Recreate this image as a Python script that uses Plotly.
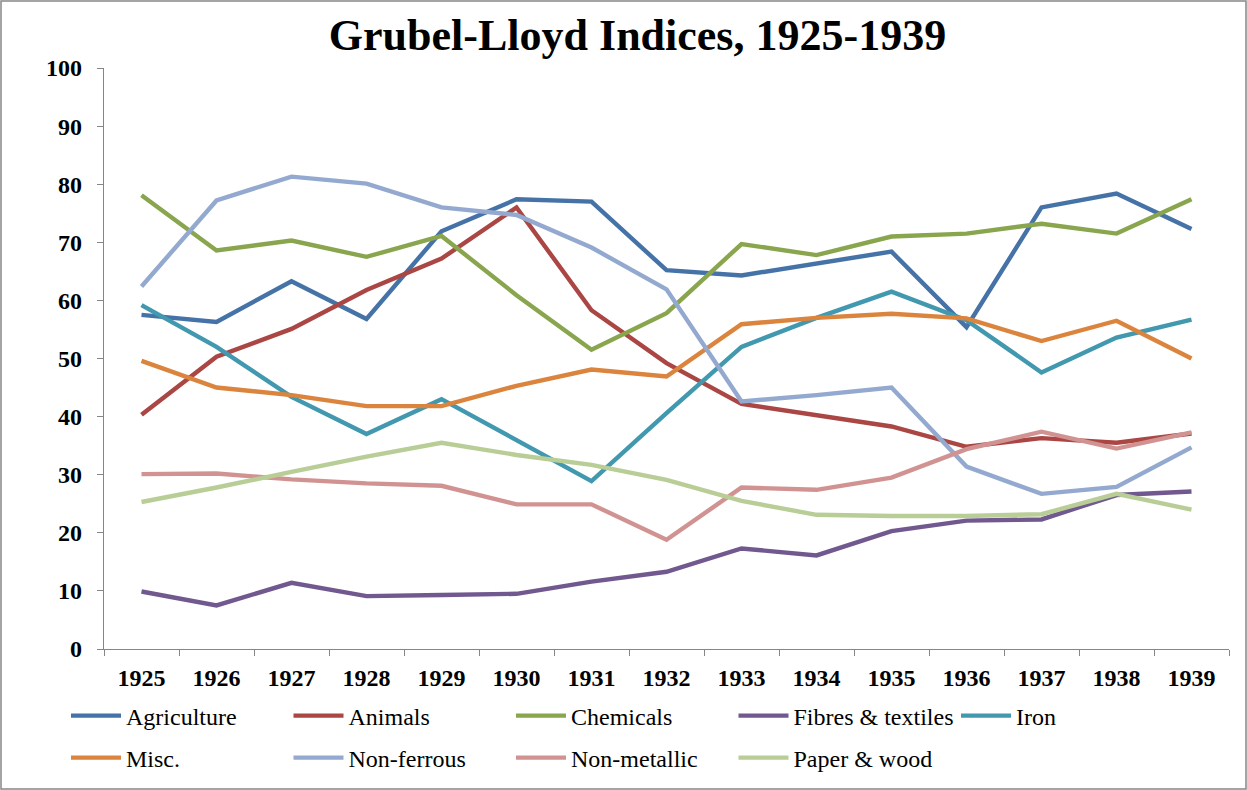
import plotly.graph_objects as go

years = ["1925", "1926", "1927", "1928", "1929", "1930", "1931", "1932",
         "1933", "1934", "1935", "1936", "1937", "1938", "1939"]

agriculture = [57.5, 56.3, 63.3, 56.8, 71.9, 77.4, 77.0, 65.2, 64.3, 66.3, 68.4, 55.4, 76.0, 78.4, 72.3]
animals = [40.3, 50.3, 55.1, 61.8, 67.2, 76.0, 58.3, 49.2, 42.2, 40.3, 38.3, 34.8, 36.3, 35.5, 37.1]
chemicals = [78.1, 68.6, 70.3, 67.5, 71.1, 60.9, 51.5, 57.8, 69.7, 67.8, 71.0, 71.5, 73.2, 71.5, 77.4]
fibres = [9.9, 7.5, 11.4, 9.1, 9.3, 9.5, 11.6, 13.3, 17.3, 16.1, 20.3, 22.1, 22.3, 26.5, 27.1]
iron = [59.2, 52.0, 43.4, 37.0, 43.0, 35.9, 28.9, 40.6, 52.0, 57.0, 61.5, 56.6, 47.6, 53.6, 56.7]
misc = [49.6, 45.0, 43.7, 41.8, 41.8, 45.3, 48.1, 46.9, 55.9, 57.0, 57.7, 56.9, 53.0, 56.5, 50.0]
non_ferrous = [62.4, 77.2, 81.3, 80.1, 76.0, 74.7, 69.1, 61.9, 42.6, 43.7, 45.0, 31.4, 26.7, 27.9, 34.7]
non_metallic = [30.1, 30.2, 29.2, 28.5, 28.1, 24.9, 24.9, 18.8, 27.8, 27.4, 29.5, 34.4, 37.4, 34.5, 37.3]
paper_wood = [25.3, 27.8, 30.5, 33.1, 35.5, 33.4, 31.7, 29.1, 25.5, 23.1, 22.9, 22.9, 23.2, 26.7, 24.0]

series_names = ["Agriculture", "Animals", "Chemicals", "Fibres & textiles", "Iron",
                "Misc.", "Non-ferrous", "Non-metallic", "Paper & wood"]
series_values = [agriculture, animals, chemicals, fibres, iron,
                 misc, non_ferrous, non_metallic, paper_wood]
colors = ["#4572A7", "#AA4643", "#89A54E", "#71588F", "#4198AF",
          "#DB843D", "#93A9CF", "#D19392", "#B9CD96"]

FONT = "Liberation Serif, Times New Roman, serif"

fig = go.Figure()
for i, (name, vals, col) in enumerate(zip(series_names, series_values, colors)):
    fig.add_trace(go.Scatter(x=years, y=vals, name=name, mode="lines",
                             line=dict(color=col, width=4.4),
                             legend="legend" if i < 5 else "legend2"))

W, H = 1247, 790
L, R, T, B = 104, 18, 68, 141
pw, ph = W - L - R, H - T - B

legend_common = dict(orientation="h", xref="container", yref="container",
                     xanchor="left", yanchor="middle",
                     entrywidth=157.5, entrywidthmode="pixels",
                     font=dict(family=FONT, size=24, color="black"),
                     itemwidth=50, bgcolor="rgba(0,0,0,0)")

fig.update_layout(
    width=W, height=H,
    margin=dict(l=L, r=R, t=T, b=B, autoexpand=False),
    paper_bgcolor="white", plot_bgcolor="white",
    font=dict(family=FONT, color="black"),
    title=dict(text="<b>Grubel-Lloyd Indices, 1925-1939</b>",
               font=dict(family=FONT, size=44, color="black"),
               x=637.5 / W, xanchor="center", xref="container",
               y=1 - 35 / H, yanchor="middle", yref="container"),
    xaxis=dict(type="category", range=[-0.5, 14.5], showgrid=False,
               showline=True, linecolor="#868686", linewidth=1.3,
               ticks="outside", tickson="boundaries", ticklen=6,
               tickcolor="#868686", tickwidth=1.3, automargin=False,
               tickfont=dict(family=FONT, size=24, color="black", weight="bold"),
               ticklabelstandoff=7),
    yaxis=dict(range=[0, 100], dtick=10, showgrid=False, zeroline=False,
               showline=True, linecolor="#868686", linewidth=1.3,
               ticks="outside", ticklen=6, tickcolor="#868686", tickwidth=1.3,
               automargin=False,
               tickfont=dict(family=FONT, size=24, color="black", weight="bold"),
               ticklabelstandoff=10),
    legend=dict(legend_common, x=66 / W, y=1 - 716 / H),
    legend2=dict(legend_common, x=66 / W, y=1 - 758 / H),
    showlegend=True,
)

# outer border of the chart area
fig.add_shape(type="rect", xref="paper", yref="paper",
              x0=(1 - L) / pw, x1=(W - 1 - L) / pw,
              y0=(H - B - (H - 1)) / ph, y1=(H - B - 1) / ph,
              line=dict(color="#868686", width=1.5), fillcolor="rgba(0,0,0,0)",
              layer="below")

fig.write_html("out.html", config={"displayModeBar": False},
               post_script="document.body.style.margin='0px';")
